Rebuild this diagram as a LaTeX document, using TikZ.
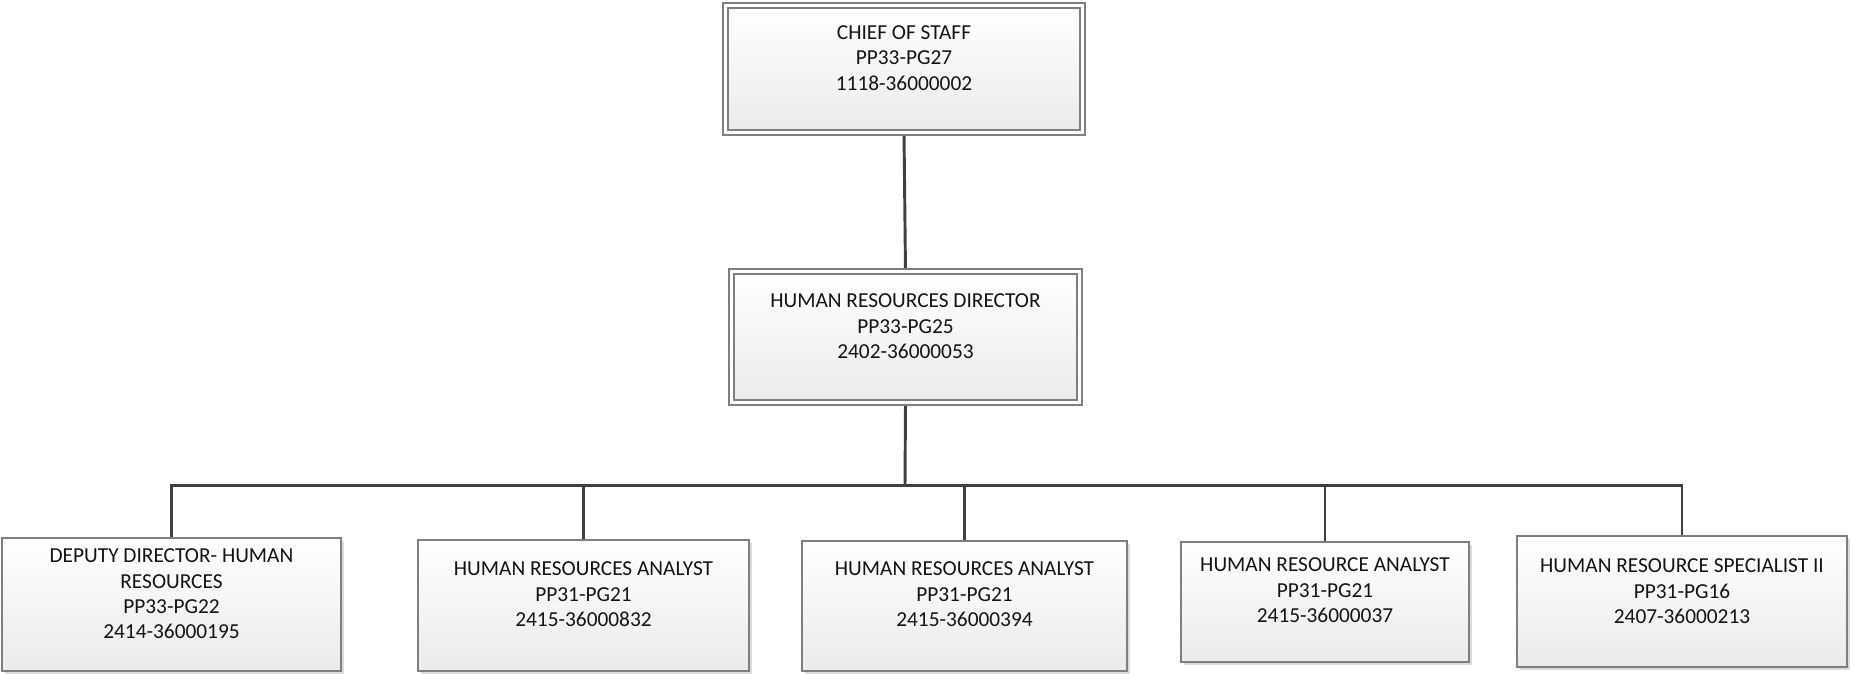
\documentclass[tikz,border=0pt]{standalone}
\usepackage{fontspec}
\setmainfont{Carlito}
\usetikzlibrary{backgrounds,shadows}
\definecolor{linkgray}{HTML}{404040}
\definecolor{framegray}{HTML}{7F7F7F}
\begin{document}
\begin{tikzpicture}[x=0.75pt,y=-0.75pt,
  every node/.style={inner sep=0pt, outer sep=0pt},
  boxsize/.style 2 args={minimum width=#1*0.75pt, minimum height=#2*0.75pt},
  boxshade/.style={top color=white, bottom color=black!8},
  softshadow/.style={drop shadow={fill=black, opacity=0.14, shadow xshift=2.4pt, shadow yshift=-2.4pt}},
  headbox/.style={rectangle, draw=framegray, line width=0.9pt, double=white,
    double distance=2.8pt, boxshade, softshadow},
  unitbox/.style={rectangle, draw=framegray, line width=1pt, boxshade, softshadow},
  caption/.style={font=\fontsize{16pt}{19pt}\selectfont, align=center,
    anchor=north, text=black!92},
  link/.style={draw=linkgray, line width=2.2pt}
]
\useasboundingbox (0,0) rectangle (1850,674);

% upper levels
\node[headbox, boxsize={357}{127}] (chief) at (904,69) {};
\node[caption] (chiefT) at (904,25.5) {CHIEF OF STAFF\\PP33-PG27\\1118-36000002};

\node[headbox, boxsize={348}{131}] (hrd) at (905.5,337) {};
\node[caption] (hrdT) at (905.5,294) {HUMAN RESOURCES DIRECTOR\\PP33-PG25\\2402-36000053};

% staff level
\node[unitbox, boxsize={339}{133}] (dep) at (171.5,604.5) {};
\node[caption] (depT) at (171.5,549) {DEPUTY DIRECTOR- HUMAN\\RESOURCES\\PP33-PG22\\2414-36000195};

\node[unitbox, boxsize={331}{131}] (an1) at (583.5,605.5) {};
\node[caption] (an1T) at (583.5,562) {HUMAN RESOURCES ANALYST\\PP31-PG21\\2415-36000832};

\node[unitbox, boxsize={325}{130}] (an2) at (964.5,606) {};
\node[caption] (an2T) at (964.5,562) {HUMAN RESOURCES ANALYST\\PP31-PG21\\2415-36000394};

\node[unitbox, boxsize={288}{120}] (an3) at (1325,602) {};
\node[caption] (an3T) at (1325,558) {HUMAN RESOURCE ANALYST\\PP31-PG21\\2415-36000037};

\node[unitbox, boxsize={330}{131}] (spec) at (1682,601.5) {};
\node[caption] (specT) at (1682,559) {HUMAN RESOURCE SPECIALIST II\\PP31-PG16\\2407-36000213};

\coordinate (bus) at (905,485.5);

% reporting lines
\begin{pgfonlayer}{background}
\draw[link] (chief.south) -- (hrd.north);
\draw[link] (hrd.south) -- (bus);
\draw[link] (dep.north) |- (bus) -| (spec.north);
\draw[link] (an1.north) -- (an1.north |- bus);
\draw[link] (an2.north) -- (an2.north |- bus);
\draw[link] (an3.north) -- (an3.north |- bus);
\end{pgfonlayer}
\end{tikzpicture}
\end{document}
